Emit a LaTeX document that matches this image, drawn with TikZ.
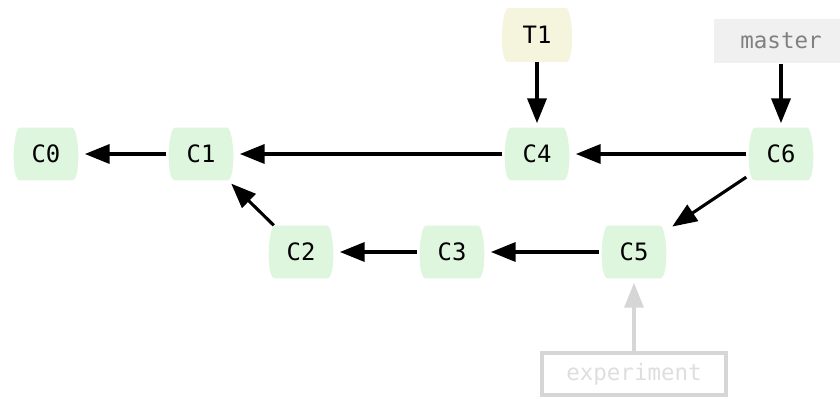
\documentclass[tikz,border=0pt]{standalone}
\usepackage{fontspec}
\setmonofont{DejaVu Sans Mono}
\usepackage{tikz}
\usetikzlibrary{arrows,arrows.meta}

\definecolor{commitgreen}{RGB}{222,245,222}
\definecolor{tagyellow}{RGB}{245,245,222}
\definecolor{branchgray}{RGB}{240,240,240}
\definecolor{lightref}{RGB}{214,214,214}

\tikzset{bulge/.style={path picture={
  \fill[#1] ([xshift=6pt]path picture bounding box.north west)
    -- ([xshift=-6pt]path picture bounding box.north east)
    .. controls ([xshift=-1pt]path picture bounding box.north east) and ([xshift=1pt]path picture bounding box.south east)
    .. ([xshift=-6pt]path picture bounding box.south east)
    -- ([xshift=6pt]path picture bounding box.south west)
    .. controls ([xshift=-1pt]path picture bounding box.south west) and ([xshift=1pt]path picture bounding box.north west)
    .. cycle;}}}

\begin{document}
\begin{tikzpicture}[x=0.025cm,y=-0.025cm]
\tikzstyle{commit}=[rectangle,bulge=commitgreen,minimum width=1.72cm,minimum height=1.32cm,inner sep=0pt,font=\ttfamily\fontsize{17}{19}\selectfont]
\tikzstyle{tag}=[commit,bulge=tagyellow,minimum width=1.86cm,minimum height=1.36cm]
\tikzstyle{branch}=[rectangle,fill=branchgray,text=gray,minimum width=3.35cm,minimum height=1.12cm,font=\ttfamily\fontsize{16}{18}\selectfont]
\tikzstyle{oldbranch}=[rectangle,draw=lightref,line width=3.5pt,text=lightref!80!white,minimum width=4.6cm,minimum height=1.05cm,font=\ttfamily\fontsize{16}{18}\selectfont]
\tikzstyle{parent}=[line width=2.2pt,-{Triangle[length=0.62cm,width=0.48cm]},shorten >=3pt]
\tikzstyle{oldparent}=[parent,draw=lightref,lightref]

\useasboundingbox (0,0) rectangle (840,399);

\node[commit] (c0) at (46,154) {C0};
\node[commit] (c1) at (201,154) {C1};
\node[commit] (c4) at (537,154) {C4};
\node[commit] (c6) at (781,154) {C6};
\node[commit] (c2) at (301,252) {C2};
\node[commit] (c3) at (452,252) {C3};
\node[commit] (c5) at (634,252) {C5};
\node[tag] (t1) at (537,35) {T1};
\node[branch] (master) at (781,41) {master};
\node[oldbranch] (experiment) at (634,374) {experiment};

\draw[parent] (c1) -- (c0);
\draw[parent] (c4) -- (c1);
\draw[parent] (c6) -- (c4);
\draw[parent] (c6) -- (c5);
\draw[parent] (c5) -- (c3);
\draw[parent] (c3) -- (c2);
\draw[parent] (c2) -- (c1);
\draw[parent] (t1) -- (c4);
\draw[parent] (master) -- (c6);
\draw[oldparent] (experiment) -- (c5);
\end{tikzpicture}
\end{document}
